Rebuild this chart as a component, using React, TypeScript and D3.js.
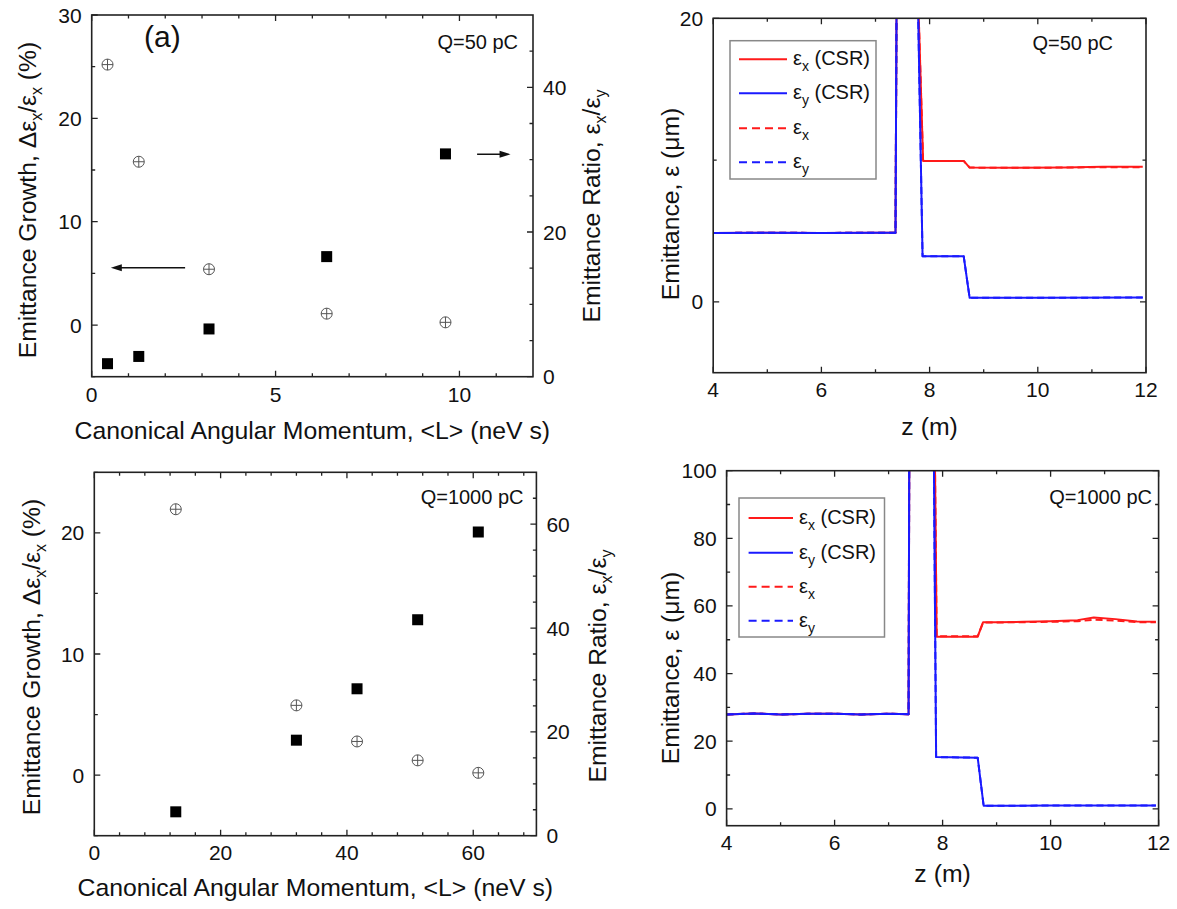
import * as d3 from "d3";

const FONT = "'Liberation Sans', Arial, Helvetica, sans-serif";

// ---- scatter panels: emittance growth (left axis, %) and ratio (right axis) vs <L>
const L50 = [0.43, 1.28, 3.19, 6.39, 9.62];
const growth50 = [25.2, 15.8, 5.4, 1.1, 0.26];
const ratio50 = [1.8, 2.8, 6.6, 16.6, 30.8];

const L1000 = [12.9, 32.0, 41.6, 51.2, 60.8];
const growth1000 = [21.95, 5.76, 2.78, 1.22, 0.19];
const ratio1000 = [4.6, 18.4, 28.3, 41.6, 58.5];

// ---- emittance along the beamline, Q = 50 pC (values above 20 run off the plot)
const z50x = [4, 5, 6, 7, 7.37, 7.4, 7.78, 7.8, 7.88, 8.63, 8.74, 9.5, 10.5, 11.2, 11.94];
const ex50Csr = [4.86, 4.87, 4.86, 4.87, 4.87, 30, 30, 20, 9.94, 9.94, 9.47, 9.46, 9.48, 9.52, 9.53];
const ex50 = [4.86, 4.87, 4.86, 4.87, 4.87, 30, 30, 20, 9.94, 9.94, 9.47, 9.45, 9.47, 9.5, 9.5];
const z50y = [4, 5, 6, 7, 7.37, 7.4, 7.77, 7.79, 7.87, 8.63, 8.74, 10, 11.94];
const ey50Csr = [4.86, 4.87, 4.86, 4.87, 4.87, 30, 30, 20, 3.22, 3.22, 0.28, 0.29, 0.3];
const ey50 = [4.86, 4.87, 4.86, 4.87, 4.87, 30, 30, 20, 3.22, 3.22, 0.28, 0.29, 0.3];

// ---- Q = 1000 pC
const z1000x = [4, 4.5, 5, 5.5, 6, 6.5, 7, 7.37, 7.39, 7.84, 7.86, 7.89, 8.65, 8.75, 9, 9.5, 10, 10.5, 10.8, 11.2, 11.6, 11.95];
const ex1000Csr = [27.9, 28.2, 27.9, 28.1, 28.1, 27.9, 28.1, 28.0, 150, 150, 100, 50.9, 50.9, 55.2, 55.2, 55.3, 55.5, 55.8, 56.6, 56.1, 55.4, 55.3];
const ex1000 = [27.9, 28.2, 27.9, 28.1, 28.1, 27.9, 28.1, 28.0, 150, 150, 100, 51.0, 51.0, 55.1, 55.1, 55.2, 55.3, 55.5, 55.9, 55.7, 55.2, 55.2];
const z1000y = [4, 4.5, 5, 5.5, 6, 6.5, 7, 7.37, 7.39, 7.82, 7.84, 7.88, 8.65, 8.76, 10, 11, 11.95];
const ey1000Csr = [27.9, 28.2, 27.9, 28.1, 28.1, 27.9, 28.1, 28.0, 150, 150, 100, 15.3, 15.1, 0.9, 0.95, 1.0, 1.0];
const ey1000 = [27.9, 28.2, 27.9, 28.1, 28.1, 27.9, 28.1, 28.0, 150, 150, 100, 15.3, 15.1, 0.9, 0.95, 1.0, 1.0];

const range = (a: number, b: number, s: number) => d3.range(a, b + s / 2, s);

type Box = [number, number, number, number];

function Axes(p: any) {
  const [x0, x1, y0, y1] = p.box as Box;
  const M = 6, m = 3.5;
  let d = "";
  p.xMaj.forEach((v: number) => (d += `M${p.xs(v)},${y1}v${-M}M${p.xs(v)},${y0}v${M}`));
  p.xMin.forEach((v: number) => (d += `M${p.xs(v)},${y1}v${-m}M${p.xs(v)},${y0}v${m}`));
  p.yMaj.forEach((v: number) => (d += `M${x0},${p.ys(v)}h${M}`));
  p.yMin.forEach((v: number) => (d += `M${x0},${p.ys(v)}h${m}`));
  const yr = p.yr || p.ys;
  (p.yr ? p.yrMaj : p.yMaj).forEach((v: number) => (d += `M${x1},${yr(v)}h${-M}`));
  (p.yr ? p.yrMin : p.yMin).forEach((v: number) => (d += `M${x1},${yr(v)}h${-m}`));
  return (
    <g fontSize={21} fill="#111">
      <path d={d} stroke="#222" strokeWidth={1.3} fill="none" />
      <rect x={x0} y={y0} width={x1 - x0} height={y1 - y0} fill="none" stroke="#222" strokeWidth={1.6} />
      {p.xLab.map((v: number) => (
        <text key={"x" + v} x={p.xs(v)} y={p.tickBase} textAnchor="middle">{v}</text>
      ))}
      {p.yLab.map((v: number) => (
        <text key={"y" + v} x={x0 - 10} y={p.ys(v)} dy="0.36em" textAnchor="end">{v}</text>
      ))}
      {p.yr && p.yrLab.map((v: number) => (
        <text key={"r" + v} x={x1 + 10} y={p.yr(v)} dy="0.36em">{v}</text>
      ))}
    </g>
  );
}

function CrossCircle({ cx, cy }: { cx: number; cy: number }) {
  const r = 5.5;
  return (
    <g stroke="#555" strokeWidth={1} fill="#fff">
      <circle cx={cx} cy={cy} r={r} />
      <path d={`M${cx - r},${cy}h${2 * r}M${cx},${cy - r}v${2 * r}`} />
    </g>
  );
}

function Sub({ t, s = 14, dy = 6 }: { t: string; s?: number; dy?: number }) {
  return <tspan dy={dy} fontSize={s}>{t}</tspan>;
}

function VTitle({ x, y, children }: any) {
  return (
    <text transform={`translate(${x},${y}) rotate(-90)`} textAnchor="middle" fontSize={24.7} fill="#111">
      {children}
    </text>
  );
}

function Arrow({ x1, x2, y }: { x1: number; x2: number; y: number }) {
  const dir = Math.sign(x2 - x1);
  return (
    <g>
      <line x1={x1} x2={x2 - dir * 8} y1={y} y2={y} stroke="#111" strokeWidth={1.5} />
      <path d={`M${x2},${y}L${x2 - dir * 11},${y - 3.5}L${x2 - dir * 11},${y + 3.5}Z`} fill="#111" />
    </g>
  );
}

function Scatter(p: any) {
  const [x0, x1, y0, y1] = p.box as Box;
  const xs = d3.scaleLinear().domain(p.xd).range([x0, x1]);
  const ys = d3.scaleLinear().domain(p.yd).range([y1, y0]);
  const yr = d3.scaleLinear().domain(p.yrd).range([y1, y0]);
  return (
    <g>
      <Axes box={p.box} xs={xs} ys={ys} yr={yr} xMaj={p.xMaj} xMin={p.xMin} yMaj={p.yMaj} yMin={p.yMin}
        yrMaj={p.yrMaj} yrMin={p.yrMin} xLab={p.xMaj} yLab={p.yLab} yrLab={p.yrLab} tickBase={p.tickBase} />
      {p.L.map((v: number, i: number) => (
        <rect key={"s" + i} x={xs(v) - 5.5} y={yr(p.ratio[i]) - 5.5} width={11} height={11} fill="#000" />
      ))}
      {p.L.map((v: number, i: number) => (
        <CrossCircle key={"c" + i} cx={xs(v)} cy={ys(p.growth[i])} />
      ))}
      {p.arrows && (
        <g>
          <Arrow x1={xs(2.54)} x2={xs(0.52)} y={ys(5.55)} />
          <Arrow x1={xs(10.48)} x2={xs(11.39)} y={yr(30.75)} />
        </g>
      )}
      <text x={p.qx} y={p.qy} textAnchor="end" fontSize={20} fill="#111">{p.q}</text>
      <text x={(x0 + x1) / 2} y={p.titleBase} textAnchor="middle" fontSize={24.8} fill="#111">
        Canonical Angular Momentum, &lt;L&gt; (neV s)
      </text>
      <VTitle x={p.ltx} y={p.lty}>
        <tspan>Emittance Growth, Δε</tspan><Sub t="x" s={16} /><tspan dy={-6}>/ε</tspan><Sub t="x" s={16} />
        <tspan dy={-6}> (%)</tspan>
      </VTitle>
      <VTitle x={p.rtx} y={p.rty}>
        <tspan>Emittance Ratio, ε</tspan><Sub t="x" s={16} /><tspan dy={-6}>/ε</tspan><Sub t="y" s={16} />
      </VTitle>
    </g>
  );
}

const RED = "#ff1a1a";
const BLUE = "#1a1aff";

function Lines(p: any) {
  const [x0, x1, y0, y1] = p.box as Box;
  const xs = d3.scaleLinear().domain([4, 12]).range([x0, x1]);
  const ys = d3.scaleLinear().domain(p.yd).range([y1, y0]);
  const mk = (z: number[]) => d3.line<number>().x((_, i) => xs(z[i])).y((v) => ys(v));
  const series = [
    { z: p.zx, v: p.exCsr, c: RED, dash: undefined },
    { z: p.zy, v: p.eyCsr, c: BLUE, dash: undefined },
    { z: p.zx, v: p.ex, c: RED, dash: "7,4" },
    { z: p.zy, v: p.ey, c: BLUE, dash: "7,4" },
  ];
  // draw order: reds first so the shared flat part reads blue
  const order = [0, 2, 1, 3];
  const [lx0, ly0, lx1, ly1] = p.leg as Box;
  const names = [
    [<tspan key="a">ε</tspan>, <Sub key="b" t="x" />, <tspan key="c" dy={-6}> (CSR)</tspan>],
    [<tspan key="a">ε</tspan>, <Sub key="b" t="y" />, <tspan key="c" dy={-6}> (CSR)</tspan>],
    [<tspan key="a">ε</tspan>, <Sub key="b" t="x" />],
    [<tspan key="a">ε</tspan>, <Sub key="b" t="y" />],
  ];
  return (
    <g>
      <defs>
        <clipPath id={p.id}>
          <rect x={x0} y={y0} width={x1 - x0} height={y1 - y0} />
        </clipPath>
      </defs>
      <g clipPath={`url(#${p.id})`}>
        {order.map((i) => {
          const s = series[i];
          return (
            <path key={i} d={mk(s.z)(s.v) || ""} fill="none" stroke={s.c} strokeWidth={2}
              strokeDasharray={s.dash} strokeLinejoin="round" />
          );
        })}
      </g>
      <Axes box={p.box} xs={xs} ys={ys} xMaj={range(4, 12, 2)} xMin={range(5, 11, 2)} yMaj={p.yMaj} yMin={p.yMin}
        xLab={range(4, 12, 2)} yLab={p.yLab} tickBase={p.tickBase} />
      <rect x={lx0} y={ly0} width={lx1 - lx0} height={ly1 - ly0} fill="#fff" stroke="#888" strokeWidth={1.5} />
      {series.map((s, i) => (
        <g key={"l" + i}>
          <line x1={p.legLine[0]} x2={p.legLine[1]} y1={p.legY[i]} y2={p.legY[i]} stroke={s.c} strokeWidth={2}
            strokeDasharray={s.dash ? "8,5" : undefined} />
          <text x={p.legLine[1] + 6} y={p.legY[i] + 6} fontSize={20} fill="#111">{names[i]}</text>
        </g>
      ))}
      <text x={p.qx} y={p.qy} textAnchor="end" fontSize={20} fill="#111">{p.q}</text>
      <text x={(x0 + x1) / 2} y={p.titleBase} textAnchor="middle" fontSize={24.8} fill="#111">z (m)</text>
      <VTitle x={p.tx} y={p.ty}>
        <tspan>Emittance, ε (μm)</tspan>
      </VTitle>
    </g>
  );
}

export default function App() {
  return (
    <div style={{ position: "absolute", left: 0, top: 0, background: "#fff" }}>
      <svg width={1177} height={909} fontFamily={FONT} style={{ display: "block" }}>
        <rect width={1177} height={909} fill="#fff" />
        <Scatter box={[91.7, 533, 15, 376.7]} xd={[0, 12]} yd={[-5, 30]} yrd={[0, 50]}
          xMaj={[0, 5, 10]} xMin={range(1, 11, 1).filter((v) => v % 5 !== 0)}
          yMaj={[0, 10, 20, 30]} yMin={[-5, 5, 15, 25]} yLab={[0, 10, 20, 30]}
          yrMaj={[0, 20, 40]} yrMin={range(5, 45, 5).filter((v) => v % 20 !== 0)} yrLab={[0, 20, 40]}
          L={L50} growth={growth50} ratio={ratio50} arrows tickBase={402} titleBase={439}
          q="Q=50 pC" qx={518} qy={49} ltx={36} lty={200} rtx={600} rty={206} />
        <text x={144} y={47} fontSize={30} fill="#111" fontFamily={FONT}>(a)</text>
        <Scatter box={[94.3, 536.4, 472.3, 835.7]} xd={[0, 70]} yd={[-5, 25]} yrd={[0, 70]}
          xMaj={[0, 20, 40, 60]} xMin={range(4, 68, 4).filter((v) => v % 20 !== 0)}
          yMaj={[0, 10, 20]} yMin={[-5, 5, 15, 25]} yLab={[0, 10, 20]}
          yrMaj={[0, 20, 40, 60]} yrMin={range(5, 65, 5).filter((v) => v % 20 !== 0)} yrLab={[0, 20, 40, 60]}
          L={L1000} growth={growth1000} ratio={ratio1000} tickBase={860} titleBase={896}
          q="Q=1000 pC" qx={523.5} qy={504} ltx={40} lty={657} rtx={606} rty={666} />
        <Lines id="c50" box={[713.2, 1146, 18.3, 372.7]} yd={[-5, 20]} yMaj={[0, 20]} yMin={[10]} yLab={[0, 20]}
          zx={z50x} exCsr={ex50Csr} ex={ex50} zy={z50y} eyCsr={ey50Csr} ey={ey50}
          leg={[730, 40.7, 876, 179]} legY={[59.3, 93.3, 128.3, 162.3]} legLine={[739, 787]}
          q="Q=50 pC" qx={1113} qy={50} tickBase={397} titleBase={435} tx={679} ty={204} />
        <Lines id="c1000" box={[726.6, 1158.6, 470.7, 825.7]} yd={[-5, 100]} yMaj={range(0, 100, 20)}
          yMin={range(10, 90, 20)} yLab={range(0, 100, 20)}
          zx={z1000x} exCsr={ex1000Csr} ex={ex1000} zy={z1000y} eyCsr={ey1000Csr} ey={ey1000}
          leg={[739, 498, 884.5, 637]} legY={[518, 552.7, 586.7, 620.7]} legLine={[748.6, 793]}
          q="Q=1000 pC" qx={1152} qy={504} tickBase={850} titleBase={882} tx={679} ty={668} />
      </svg>
    </div>
  );
}
